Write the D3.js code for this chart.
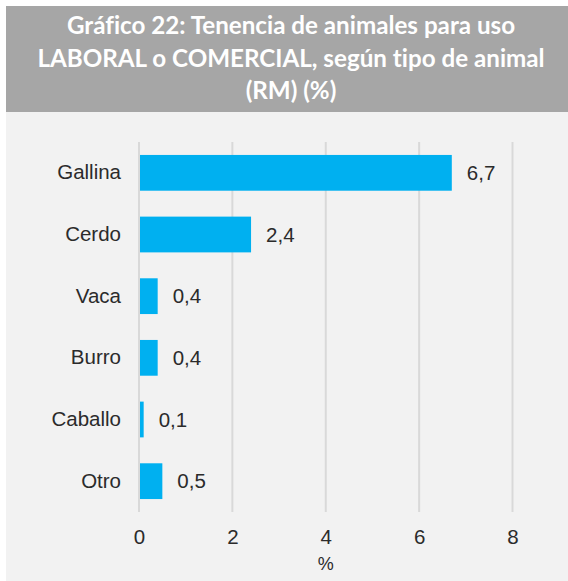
<!DOCTYPE html>
<html>
<head>
<meta charset="utf-8">
<script src="https://cdn.jsdelivr.net/npm/d3@7"></script>
<style>
  html, body { margin: 0; padding: 0; background: #ffffff; }
  svg { display: block; }
  text { font-variant-ligatures: none; font-feature-settings: "liga" 0, "clig" 0; }
</style>
</head>
<body>
<svg id="chart" width="568" height="581"></svg>
<script>
// chart data
const titleLines = ['Gráfico 22: Tenencia de animales para uso', 'LABORAL o COMERCIAL, según tipo de animal', '(RM) (%)'];
const categories = ['Gallina', 'Cerdo', 'Vaca', 'Burro', 'Caballo', 'Otro'];
const values = [6.7, 2.4, 0.4, 0.4, 0.1, 0.5];
const xTicks = [0, 2, 4, 6, 8];
const xLabel = '%';

const svg = d3.select('#chart');
const W = 568, H = 581;

// panel + title band
svg.append('rect').attr('x', 6).attr('y', 112).attr('width', W - 6).attr('height', H - 112).attr('fill', '#f2f2f2');
svg.append('rect').attr('x', 6).attr('y', 6).attr('width', W - 6).attr('height', 106).attr('fill', '#a6a6a6');

svg.append('g').selectAll('text')
  .data(titleLines)
  .join('text')
  .attr('x', 291)
  .attr('y', (d, i) => 34 + i * 32.5)
  .attr('text-anchor', 'middle')
  .style('font-family', 'Lato, "Open Sans", sans-serif')
  .style('font-weight', 700)
  .style('font-size', '24.2px')
  .style('fill', '#ffffff')
  .text(d => d);

const margin = {left: 139, top: 142};
const plotW = 373.5, plotH = 370;

const x = d3.scaleLinear().domain([0, 8]).range([margin.left, margin.left + plotW]);
const y = d3.scaleBand().domain(categories).range([margin.top, margin.top + plotH]).paddingInner(0.42).paddingOuter(0.21);

const font = '"Liberation Sans", Arial, sans-serif';
const textCol = '#2b2b2b';

// gridlines
svg.append('g').selectAll('line')
  .data(xTicks)
  .join('line')
  .attr('x1', d => x(d)).attr('x2', d => x(d))
  .attr('y1', margin.top).attr('y2', margin.top + plotH)
  .attr('stroke', '#d9d9d9')
  .attr('stroke-width', 2);

// bars
svg.append('g').selectAll('rect')
  .data(categories)
  .join('rect')
  .attr('x', x(0) + 1)
  .attr('y', d => y(d))
  .attr('width', (d, i) => x(values[i]) - x(0) - 1)
  .attr('height', y.bandwidth())
  .attr('fill', '#00b0f0');

// value labels
svg.append('g').selectAll('text')
  .data(categories)
  .join('text')
  .attr('x', (d, i) => x(values[i]) + 15)
  .attr('y', d => y(d) + y.bandwidth() / 2)
  .attr('dy', '0.35em')
  .style('font-family', font)
  .style('font-size', '20.5px')
  .style('fill', textCol)
  .text((d, i) => String(values[i]).replace('.', ','));

// category axis
const yAxis = d3.axisLeft(y).tickSize(0).tickPadding(18);
const gy = svg.append('g').attr('transform', `translate(${margin.left},0)`).call(yAxis);
gy.select('.domain').remove();
gy.attr('font-family', null).attr('font-size', null);
gy.selectAll('text').style('font-family', font).style('font-size', '20.5px').style('fill', textCol);

// value axis
const xAxis = d3.axisBottom(x).tickValues(xTicks).tickSize(0).tickPadding(17).tickFormat(d3.format('d'));
const gx = svg.append('g').attr('transform', `translate(0,${margin.top + plotH})`).call(xAxis);
gx.select('.domain').remove();
gx.attr('font-family', null).attr('font-size', null);
gx.selectAll('text').style('font-family', font).style('font-size', '20.5px').style('fill', textCol);

svg.append('text')
  .attr('x', x(4))
  .attr('y', 570)
  .attr('text-anchor', 'middle')
  .style('font-family', font)
  .style('font-size', '18px')
  .style('fill', textCol)
  .text(xLabel);
</script>
</body>
</html>
